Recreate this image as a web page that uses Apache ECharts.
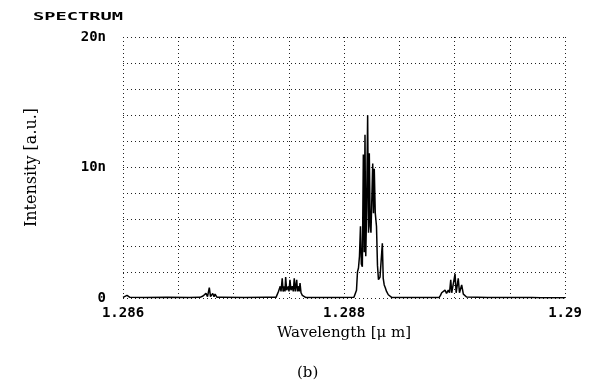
<!DOCTYPE html>
<html>
<head>
<meta charset="utf-8">
<script src="https://cdn.jsdelivr.net/npm/echarts@6/dist/echarts.min.js"></script>
<style>html,body{margin:0;padding:0;background:#fff}#c{width:606px;height:387px}</style>
</head>
<body>
<div id="c"></div>
<script>
// Wavelength [µm]
const wavelength = [
  1.286000, 1.286036, 1.286063, 1.286200, 1.286400, 1.286600, 1.286697, 1.286724, 1.286751, 1.286765,
  1.286781, 1.286792, 1.286812, 1.286824, 1.286833, 1.286851, 1.286887, 1.287100, 1.287300, 1.287385,
  1.287398, 1.287407, 1.287416, 1.287423, 1.287430, 1.287441, 1.287449, 1.287459, 1.287466, 1.287472,
  1.287481, 1.287490, 1.287497, 1.287502, 1.287511, 1.287520, 1.287532, 1.287541, 1.287550, 1.287559,
  1.287572, 1.287579, 1.287586, 1.287595, 1.287602, 1.287611, 1.287623, 1.287638, 1.287656, 1.287800,
  1.287950, 1.288090, 1.288100, 1.288113, 1.288122, 1.288131, 1.288140, 1.288149, 1.288157, 1.288166,
  1.288175, 1.288183, 1.288190, 1.288197, 1.288205, 1.288214, 1.288222, 1.288229, 1.288237, 1.288244,
  1.288260, 1.288267, 1.288274, 1.288283, 1.288294, 1.288303, 1.288312, 1.288326, 1.288338, 1.288347,
  1.288355, 1.288364, 1.288373, 1.288385, 1.288401, 1.288416, 1.288434, 1.288600, 1.288750, 1.288860,
  1.288873, 1.288884, 1.288896, 1.288914, 1.288928, 1.288944, 1.288955, 1.288966, 1.288975, 1.288986,
  1.289005, 1.289015, 1.289024, 1.289034, 1.289045, 1.289054, 1.289065, 1.289080, 1.289095, 1.289109,
  1.289122, 1.289300, 1.289500, 1.289700, 1.289783, 1.289792, 1.289810, 1.290000
];
// Intensity [n a.u.]
const intensity = [
  0.05, 0.20, 0.05, 0.04, 0.05, 0.04, 0.05, 0.15, 0.35, 0.10,
  0.80, 0.10, 0.35, 0.10, 0.30, 0.05, 0.05, 0.04, 0.05, 0.05,
  0.10, 0.50, 0.40, 0.90, 0.50, 1.50, 0.50, 0.90, 0.50, 1.60,
  0.60, 0.55, 0.90, 0.50, 1.40, 0.60, 0.90, 0.50, 1.50, 0.50,
  1.40, 0.50, 0.90, 0.50, 1.15, 0.40, 0.20, 0.08, 0.03, 0.04,
  0.04, 0.05, 0.20, 0.60, 2.00, 2.30, 3.20, 5.50, 2.60, 2.40,
  11.0, 3.50, 12.5, 3.20, 7.00, 14.0, 5.00, 11.1, 5.50, 5.00,
  10.3, 6.50, 9.90, 6.50, 5.50, 2.50, 1.40, 1.60, 1.50, 4.20,
  1.50, 1.00, 0.80, 0.50, 0.25, 0.20, 0.03, 0.04, 0.04, 0.03,
  0.20, 0.40, 0.30, 0.60, 0.35, 0.60, 0.40, 1.40, 0.40, 0.50,
  1.85, 0.40, 0.50, 1.50, 0.40, 0.45, 1.00, 0.30, 0.15, 0.08,
  0.02, 0.03, 0.03, 0.03, 0.02, 0.12, 0.02, 0.02
];
const xLabelValues = [1.286, 1.288, 1.29];
const xLabelTexts = ['1.286', '1.288', '1.29'];
const yLabelValues = [0, 10, 20];
const yLabelTexts = ['0', '10n', '20n'];

const chart = echarts.init(document.getElementById('c'), null, {renderer: 'canvas'});
const tickFont = {fontFamily: 'DejaVu Sans Mono', fontWeight: 'bold', fontSize: 14, color: '#000'};
const dotted = {color: '#222', width: 1, type: [1, 3]};
function findLabel(v, vals, texts) {
  for (let i = 0; i < vals.length; i++) if (Math.abs(v - vals[i]) < 1e-7) return texts[i];
  return '';
}
chart.setOption({
  animation: false,
  backgroundColor: '#fff',
  grid: {left: 123, right: 41, top: 37, bottom: 89, containLabel: false},
  graphic: [{
    type: 'text', x: 33, y: 12, scaleX: 1.7, scaleY: 1,
    style: {text: 'SPECTRUM', fontFamily: 'DejaVu Sans Mono', fontWeight: 'bold', fontSize: 11, fill: '#000'}
  }, {
    type: 'text', left: 297, top: 366,
    style: {text: '(b)', fontFamily: 'DejaVu Serif', fontSize: 15, fill: '#000'}
  }],
  xAxis: {
    type: 'value', min: 1.286, max: 1.29, interval: 0.0005,
    name: 'Wavelength [\u03bc m]', nameLocation: 'middle', nameGap: 28,
    nameTextStyle: {fontFamily: 'DejaVu Serif', fontSize: 15, color: '#000'},
    axisLine: {show: false}, axisTick: {show: false},
    splitLine: {show: true, lineStyle: dotted},
    axisLabel: Object.assign({margin: 8, showMinLabel: true, showMaxLabel: true,
      formatter: v => findLabel(v, xLabelValues, xLabelTexts)}, tickFont)
  },
  yAxis: {
    type: 'value', min: 0, max: 20, interval: 2,
    name: 'Intensity [a.u.]', nameLocation: 'middle', nameGap: 83, nameRotate: 90,
    nameTextStyle: {fontFamily: 'DejaVu Serif', fontSize: 16, color: '#000'},
    axisLine: {show: false}, axisTick: {show: false},
    splitLine: {show: true, lineStyle: dotted},
    axisLabel: Object.assign({margin: 17, showMinLabel: true, showMaxLabel: true,
      formatter: v => findLabel(v, yLabelValues, yLabelTexts)}, tickFont)
  },
  series: [{
    type: 'line',
    data: wavelength.map((w, i) => [w, intensity[i]]),
    showSymbol: false, symbol: 'none',
    lineStyle: {color: '#000', width: 1.5},
    z: 5
  }]
});
</script>
</body>
</html>
